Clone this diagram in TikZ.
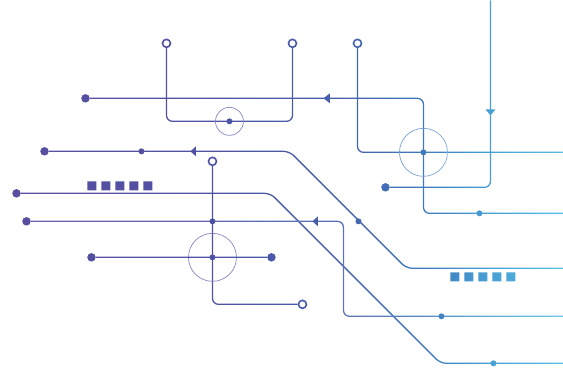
\documentclass[tikz,border=0pt]{standalone}
\usetikzlibrary{fadings}
\definecolor{s0}{HTML}{5A4E9F}
\definecolor{s1}{HTML}{4F51A4}
\definecolor{s2}{HTML}{4660AC}
\definecolor{s3}{HTML}{3F78BC}
\definecolor{s4}{HTML}{47A0D5}
\definecolor{s5}{HTML}{5BBDE3}
\pgfdeclarehorizontalshading{lineshade}{100bp}{color(0bp)=(s0); color(25bp)=(s0); color(42.8bp)=(s1); color(55.2bp)=(s2); color(62.3bp)=(s3); color(68.5bp)=(s4); color(75bp)=(s5); color(100bp)=(s5)}
\tikzset{
  bigdot/.style={circle,fill=white,inner sep=0pt,minimum size=8.5pt},
  smalldot/.style={circle,fill=white,inner sep=0pt,minimum size=6pt},
  ring/.style={circle,draw=white,line width=1.6pt,inner sep=0pt,minimum size=8pt},
  halo/.style={circle,draw=white!70!black,line width=0.7pt,inner sep=0pt},
  sq/.style={fill=white,inner sep=0pt,minimum size=9pt},
  rc/.style={rounded corners=6pt},
  wire/.style={draw=white,line width=1.3pt}}
\begin{tikzfadingfrompicture}[name=circuit,x=1pt,y=-1pt]
\fill[black] (0,0) rectangle (563,385);
% ---- Line A (top, y=98)
\node[bigdot] (a1) at (85,98) {};
\coordinate (a4) at (563,213);
\draw[wire,rc] (a1) -- (423,98) -- (423,213) -- (a4);
\fill[white] (323,98) -- (329.5,93) -- (329.5,103) -- cycle;
\node[smalldot] (a5) at (479,213) {};
% ---- Loop B
\node[ring] (b1) at (166,43) {};
\node[ring] (b2) at (292,43) {};
\draw[wire,rc] (b1) -- (166,121) -- (292,121) -- (b2);
\node[halo,minimum size=28pt] (bh) at (229,121) {};
\node[smalldot] (bd) at (229,121) {};
% ---- Line C
\node[ring] (c1) at (357,43) {};
\coordinate (c3) at (563,152);
\draw[wire,rc] (c1) -- (357,152) -- (c3);
\node[halo,minimum size=48pt] (ch) at (423,152) {};
\node[smalldot] (cd) at (423,152) {};
% ---- Line D
\coordinate (d1) at (490,0);
\node[bigdot] (d2) at (385,187) {};
\draw[wire,rc] (d1) -- (490,187) -- (d2);
\fill[white] (490,115) -- (485,109) -- (495,109) -- cycle;
% ---- Line E
\node[bigdot] (e1) at (44,151) {};
\coordinate (e3) at (563,268);
\draw[wire,rc] (e1) -- (289,151) -- (406,268) -- (e3);
\node[smalldot] (e4) at (141,151) {};
\fill[white] (190,151) -- (195.5,146) -- (195.5,156) -- cycle;
\node[smalldot] (e5) at (358,221) {};
% ---- Line F
\node[bigdot] (f1) at (16,193) {};
\coordinate (f3) at (563,363);
\draw[wire,rc] (f1) -- (270,193) -- (440,363) -- (f3);
\node[smalldot] (f4) at (493,363) {};
% ---- Line G
\node[bigdot] (g1) at (26,221) {};
\coordinate (g3) at (563,316);
\draw[wire,draw=white!88!black,rc] (g1) -- (343,221) -- (343,316) -- (g3);
\fill[white] (312,221) -- (317.5,216) -- (317.5,226) -- cycle;
\node[smalldot] (g4) at (441,316) {};
% ---- Line H
\node[ring] (h1) at (212,161) {};
\node[ring] (h2) at (302,304) {};
\draw[wire,rc] (h1) -- (212,304) -- (h2);
\node[halo,minimum size=48pt] (hh) at (212,257) {};
\node[smalldot] (h3) at (212,221) {};
\node[smalldot] (h4) at (212,257) {};
% ---- Line I
\node[bigdot] (i1) at (91,257) {};
\node[bigdot] (i2) at (271,257) {};
\draw[wire] (i1) -- (i2);
% ---- Squares
\foreach \k in {0,...,4} {
  \node[sq] (p\k) at ({91.5+14*\k},185.5) {};
  \node[sq] (q\k) at ({454.5+14*\k},276.5) {};
}
\end{tikzfadingfrompicture}
\begin{document}
\begin{tikzpicture}[x=1pt,y=-1pt]
\useasboundingbox (0,0) rectangle (563,385);
\shade[shading=lineshade,path fading=circuit,fit fading=false,fading transform={shift={(282.3,192.5)}}] (0,0) rectangle (563,385);
\end{tikzpicture}
\end{document}
